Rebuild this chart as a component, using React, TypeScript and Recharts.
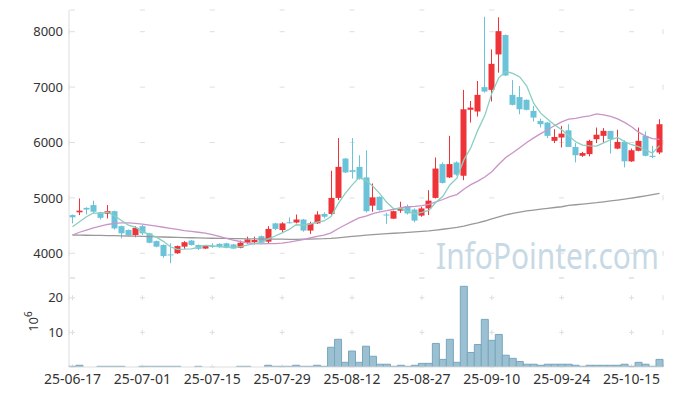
import React from 'react';
import { ComposedChart, Bar, Line, XAxis, YAxis, CartesianGrid } from 'recharts';

// trading days, 25-06-17 .. 25-10-21
const dates = [
  '25-06-17', '25-06-18', '25-06-19', '25-06-20', '25-06-23', '25-06-24', '25-06-25', '25-06-26', '25-06-27', '25-06-30',
  '25-07-01', '25-07-02', '25-07-03', '25-07-04', '25-07-07', '25-07-08', '25-07-09', '25-07-10', '25-07-11', '25-07-14',
  '25-07-15', '25-07-16', '25-07-17', '25-07-18', '25-07-21', '25-07-22', '25-07-23', '25-07-24', '25-07-25', '25-07-28',
  '25-07-29', '25-07-30', '25-07-31', '25-08-01', '25-08-04', '25-08-05', '25-08-06', '25-08-07', '25-08-08', '25-08-11',
  '25-08-12', '25-08-13', '25-08-14', '25-08-18', '25-08-19', '25-08-20', '25-08-21', '25-08-22', '25-08-25', '25-08-26',
  '25-08-27', '25-08-28', '25-08-29', '25-09-01', '25-09-02', '25-09-03', '25-09-04', '25-09-05', '25-09-08', '25-09-09',
  '25-09-10', '25-09-11', '25-09-12', '25-09-15', '25-09-16', '25-09-17', '25-09-18', '25-09-19', '25-09-22', '25-09-23',
  '25-09-24', '25-09-25', '25-09-26', '25-09-29', '25-09-30', '25-10-01', '25-10-02', '25-10-10', '25-10-13', '25-10-14',
  '25-10-15', '25-10-16', '25-10-17', '25-10-20', '25-10-21',
];

const tickDates = ['25-06-17', '25-07-01', '25-07-15', '25-07-29', '25-08-12', '25-08-27', '25-09-10', '25-09-24', '25-10-15'];
const priceTicks = [4000, 5000, 6000, 7000, 8000];
const volumeTicks = [10, 20];

const opens = [
  4690, 4740, 4820, 4870, 4740, 4715, 4760, 4490, 4420, 4330,
  4490, 4360, 4220, 4150, 3980, 4000, 4120, 4230, 4150, 4085,
  4130, 4170, 4180, 4160, 4100, 4190, 4200, 4310, 4210, 4540,
  4420, 4560, 4555, 4610, 4410, 4540, 4710, 4710, 5000, 5710,
  5500, 5560, 5370, 4860, 5020, 4700, 4625, 4770, 4850, 4790,
  4680, 4810, 5000, 5610, 5370, 5640, 5400, 6590, 6560, 7000,
  6950, 7590, 7940, 6860, 6820, 6770, 6570, 6390, 6360, 6030,
  6090, 6220, 5920, 5760, 5790, 6060, 6120, 6210, 5890, 6010,
  5660, 5850, 6120, 5760, 5820,
];
const highs = [
  4700, 4990, 4830, 4950, 4750, 4870, 4770, 4500, 4430, 4490,
  4510, 4370, 4230, 4160, 4180, 4140, 4220, 4240, 4160, 4150,
  4180, 4180, 4190, 4170, 4230, 4300, 4300, 4320, 4490, 4550,
  4560, 4650, 4700, 4620, 4570, 4760, 4740, 5490, 6080, 5720,
  6080, 5770, 5860, 5260, 5030, 4730, 4770, 4930, 4880, 4810,
  4840, 5140, 5730, 5640, 6120, 5660, 6950, 6750, 7110, 8270,
  7680, 8260, 7950, 7130, 7020, 6780, 6660, 6430, 6370, 6240,
  6300, 6330, 5990, 5830, 6050, 6270, 6260, 6210, 6230, 6040,
  5890, 6270, 6200, 5940, 6420,
];
const lows = [
  4540, 4690, 4700, 4720, 4610, 4630, 4430, 4270, 4320, 4290,
  4330, 4180, 4110, 3920, 3820, 3990, 4080, 4140, 4060, 4080,
  4100, 4100, 4090, 4080, 4090, 4170, 4160, 4180, 4180, 4420,
  4380, 4540, 4540, 4390, 4350, 4530, 4630, 4690, 4960, 5450,
  5350, 5330, 4740, 4750, 4770, 4530, 4620, 4730, 4700, 4560,
  4660, 4690, 4990, 5260, 5360, 5400, 5320, 6360, 6470, 6900,
  6740, 7260, 7200, 6670, 6510, 6580, 6380, 6270, 6080, 5990,
  5910, 5920, 5640, 5740, 5750, 5990, 5990, 5800, 5880, 5550,
  5650, 5840, 5750, 5720, 5790,
];
const closes = [
  4650, 4770, 4790, 4750, 4640, 4760, 4450, 4360, 4330, 4460,
  4360, 4190, 4120, 3950, 3970, 4130, 4200, 4150, 4080, 4145,
  4125, 4110, 4100, 4085, 4190, 4250, 4240, 4190, 4440, 4440,
  4540, 4545, 4610, 4410, 4540, 4700, 4660, 5000, 5560, 5460,
  5470, 5340, 4760, 5010, 4780, 4690, 4760, 4810, 4720, 4590,
  4810, 4950, 5530, 5270, 5610, 5420, 6600, 6630, 6860, 6920,
  7420, 8010, 7210, 6680, 6600, 6590, 6450, 6330, 6120, 6100,
  6160, 5920, 5770, 5810, 6030, 6140, 6210, 6060, 6010, 5660,
  5860, 6030, 5760, 5740, 6330,
];

// volume, x10^6
const volumes = [
  0.2, 0.5, 0, 0, 0.2, 0.2, 0.2, 0.2, 0, 0,
  0.2, 0.2, 0.2, 0.2, 0.2, 0.2, 0, 0, 0.2, 0,
  0, 0, 0, 0, 0.2, 0.2, 0, 0, 0.5, 0.2,
  0.2, 0.2, 0.5, 0.2, 0.2, 0.5, 0.2, 5.7, 8.0, 1.35,
  4.6, 1.35, 6.0, 3.1, 0.8, 0.8, 0.2, 0.5, 0.2, 0.5,
  1.05, 1.05, 6.8, 2.2, 8.0, 1.35, 23.3, 4.2, 6.5, 13.75,
  7.7, 9.4, 3.4, 2.5, 1.6, 0.8, 0.8, 0.5, 0.8, 0.8,
  0.8, 0.8, 0.5, 0.2, 0.5, 0.5, 0.5, 0.5, 0.5, 0.8,
  0.2, 1.35, 0.8, 0.2, 2.2,
];

const ma5 = [
  4480, 4570, 4660, 4730, 4720, 4742, 4678, 4592, 4508, 4472,
  4392, 4340, 4292, 4216, 4118, 4072, 4074, 4080, 4106, 4141,
  4140, 4122, 4112, 4113, 4122, 4147, 4173, 4191, 4262, 4312,
  4370, 4431, 4515, 4509, 4529, 4561, 4584, 4662, 4892, 5076,
  5230, 5366, 5318, 5208, 5072, 4916, 4800, 4810, 4752, 4714,
  4738, 4776, 4920, 5030, 5234, 5356, 5686, 5906, 6224, 6486,
  6886, 7168, 7284, 7248, 7184, 7018, 6706, 6530, 6418, 6318,
  6232, 6126, 6014, 5952, 5938, 5934, 5992, 6050, 6090, 6016,
  5960, 5924, 5864, 5810, 5944,
];
const ma20 = [
  4330, 4380, 4420, 4460, 4490, 4520, 4540, 4550, 4550, 4540,
  4525, 4510, 4490, 4470, 4450, 4430, 4410, 4395, 4380, 4363,
  4337, 4304, 4269, 4236, 4213, 4188, 4177, 4169, 4174, 4173,
  4182, 4200, 4225, 4248, 4276, 4305, 4328, 4370, 4444, 4510,
  4577, 4639, 4672, 4718, 4747, 4769, 4795, 4826, 4840, 4848,
  4861, 4882, 4928, 4971, 5024, 5060, 5157, 5239, 5304, 5377,
  5474, 5608, 5730, 5814, 5905, 6000, 6084, 6160, 6230, 6306,
  6373, 6422, 6434, 6461, 6482, 6518, 6498, 6470, 6427, 6364,
  6286, 6187, 6116, 6069, 6055,
];
const ma60 = [
  4330, 4328, 4326, 4324, 4322, 4320, 4318, 4315, 4312, 4309,
  4306, 4302, 4298, 4294, 4290, 4287, 4284, 4281, 4278, 4275,
  4272, 4270, 4268, 4266, 4264, 4262, 4260, 4258, 4256, 4255,
  4254, 4253, 4253, 4254, 4256, 4259, 4263, 4270, 4280, 4292,
  4304, 4316, 4328, 4337, 4346, 4354, 4362, 4370, 4378, 4386,
  4394, 4403, 4418, 4434, 4451, 4469, 4492, 4520, 4550, 4583,
  4620, 4656, 4692, 4720, 4745, 4765, 4780, 4796, 4812, 4827,
  4840, 4864, 4876, 4888, 4900, 4913, 4929, 4945, 4961, 4977,
  4994, 5016, 5038, 5060, 5083,
];

const rows = dates.map((date, i) => ({
  date,
  open: opens[i],
  high: highs[i],
  low: lows[i],
  close: closes[i],
  range: [lows[i], highs[i]],
  volume: volumes[i],
  ma5: ma5[i],
  ma20: ma20[i],
  ma60: ma60[i],
}));

const W = 673;
const H = 396;
const LEFT = 69;
const RIGHT = 10;
const PRICE_TOP = 10;
const PRICE_BOTTOM = 278;
const VOL_BOTTOM = 367;
const PRICE_DOMAIN: [number, number] = [3554, 8392];
const VOL_DOMAIN: [number, number] = [0, 25.7];

const UP = '#ee3438';
const DOWN = '#6bc3da';
const BORDER = '#dddddd';
const GRID = '#dedede';
const FONT = '"Noto Sans", sans-serif';
const yTickStyle = { fill: '#333', fontSize: 13, fontFamily: FONT };
const xTickStyle = { fill: '#333', fontSize: 14, fontFamily: FONT };

// grid is drawn as small "+" marks: short dashes centred on the ticks
const band = (W - LEFT - RIGHT) / dates.length;
const hPeriod = band * 10;
const hDash = `0 ${band / 2 - 2.5} 5 ${hPeriod - band / 2 - 2.5}`;
const dashFor = (height: number, domain: [number, number], first: number, step: number) => {
  const per = height / (domain[1] - domain[0]);
  const start = (domain[1] - first) * per - 2.5;
  const period = step * per;
  return `0 ${start} 5 ${period - start - 5}`;
};
const priceVDash = dashFor(PRICE_BOTTOM - PRICE_TOP, PRICE_DOMAIN, 8000, 1000);
const volVDash = dashFor(VOL_BOTTOM - PRICE_BOTTOM, VOL_DOMAIN, 20, 10);

const gridLine = (dash: string) => (p: any) => (
  <line key={p.key} x1={p.x1} y1={p.y1} x2={p.x2} y2={p.y2} stroke={GRID} strokeWidth={1} strokeDasharray={dash} />
);

const renderCandle = (props: any) => {
  const { x, y, width, height, payload } = props;
  const top = Math.min(y, y + height);
  const h = Math.abs(height);
  const { open, close, high, low } = payload;
  const k = h / (high - low);
  const bodyTop = top + (high - Math.max(open, close)) * k;
  const bodyBot = top + (high - Math.min(open, close)) * k;
  const color = close >= open ? UP : DOWN;
  const cx = Math.round(x + width / 2) + 0.5;
  return (
    <g>
      <line x1={cx} x2={cx} y1={top} y2={top + h} stroke={color} strokeWidth={1} />
      <rect x={cx - 3} y={bodyTop} width={6} height={Math.max(1, bodyBot - bodyTop)} fill={color} />
    </g>
  );
};

const VolumeLabel = (props: any) => {
  const vb = props.viewBox || { x: 0, y: PRICE_BOTTOM, width: LEFT, height: VOL_BOTTOM - PRICE_BOTTOM };
  const cx = 33;
  const cy = vb.y + vb.height / 2 - 1;
  return (
    <text
      x={cx}
      y={cy}
      transform={`rotate(-90 ${cx} ${cy})`}
      textAnchor="middle"
      dominantBaseline="central"
      fill="#333"
      fontSize={13}
      fontFamily={FONT}
    >
      10<tspan dy={-5} fontSize={10}>6</tspan>
    </text>
  );
};

const App: React.FC = () => {
  return (
    <div style={{ position: 'absolute', left: 0, top: 0, width: W, height: H, background: '#fff' }}>
      <svg width={W} height={H} style={{ position: 'absolute', left: 0, top: 0 }}>
        <text
          transform="translate(436 269) scale(0.83 1)"
          fill="#c7d9e4"
          fontSize={36}
          fontFamily={FONT}
        >
          InfoPointer.com
        </text>
      </svg>

      <div style={{ position: 'absolute', left: 0, top: 0 }}>
        <ComposedChart
          width={W}
          height={H}
          data={rows}
          margin={{ top: PRICE_TOP, right: RIGHT, left: 0, bottom: H - PRICE_BOTTOM }}
        >
          <CartesianGrid horizontal={gridLine(hDash)} vertical={gridLine(priceVDash)} />
          <XAxis
            dataKey="date"
            ticks={tickDates}
            interval={0}
            height={0}
            tick={false}
            tickLine={false}
            axisLine={{ stroke: BORDER }}
          />
          <XAxis
            xAxisId="top"
            orientation="top"
            dataKey="date"
            height={0}
            tick={false}
            tickLine={false}
            axisLine={{ stroke: BORDER }}
          />
          <YAxis
            type="number"
            domain={PRICE_DOMAIN}
            ticks={priceTicks}
            allowDataOverflow
            width={LEFT}
            tickLine={false}
            tickSize={4}
            tickMargin={2}
            axisLine={{ stroke: BORDER }}
            tick={yTickStyle}
          />
          <YAxis yAxisId="right" orientation="right" width={0} tick={false} tickLine={false} axisLine={{ stroke: BORDER }} />
          <Line dataKey="ma60" stroke="#999999" strokeWidth={1.3} dot={false} isAnimationActive={false} />
          <Line dataKey="ma20" stroke="#c994c7" strokeWidth={1.3} dot={false} isAnimationActive={false} />
          <Line dataKey="ma5" stroke="#88cfc1" strokeWidth={1.3} dot={false} isAnimationActive={false} />
          <Bar dataKey="range" barSize={6} shape={renderCandle} isAnimationActive={false} />
        </ComposedChart>
      </div>

      <div style={{ position: 'absolute', left: 0, top: 0 }}>
        <ComposedChart
          width={W}
          height={H}
          data={rows}
          barCategoryGap={0}
          margin={{ top: PRICE_BOTTOM, right: RIGHT, left: 0, bottom: 0 }}
        >
          <CartesianGrid horizontal={gridLine(hDash)} vertical={gridLine(volVDash)} />
          <XAxis
            dataKey="date"
            ticks={tickDates}
            interval={0}
            height={H - VOL_BOTTOM}
            tickLine={false}
            tickSize={5}
            tickMargin={2}
            axisLine={{ stroke: BORDER }}
            tick={xTickStyle}
          />
          <YAxis
            type="number"
            domain={VOL_DOMAIN}
            ticks={volumeTicks}
            allowDataOverflow
            width={LEFT}
            tickLine={false}
            tickSize={4}
            tickMargin={2}
            axisLine={{ stroke: BORDER }}
            tick={yTickStyle}
            label={{ content: VolumeLabel }}
          />
          <YAxis yAxisId="right" orientation="right" width={0} tick={false} tickLine={false} axisLine={{ stroke: BORDER }} />
          <Bar dataKey="volume" fill="#9bc0d1" stroke="#78a6bd" strokeWidth={1} isAnimationActive={false} />
        </ComposedChart>
      </div>
    </div>
  );
};

export default App;
